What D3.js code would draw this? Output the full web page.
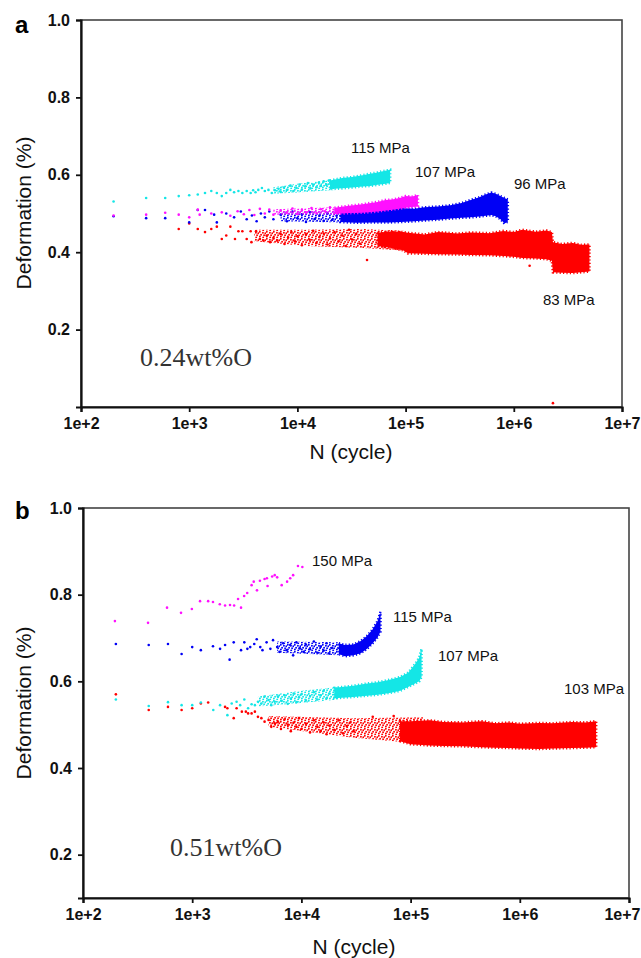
<!DOCTYPE html>
<html>
<head>
<meta charset="utf-8">
<script src="https://cdn.jsdelivr.net/npm/d3@7"></script>
<style>
    body { margin: 0; background: #fff; }
    text { font-family: "Liberation Sans", Arial, sans-serif; }
</style>
</head>
<body>
<div id="chart"></div>
<script>
// ---- panel a (0.24wt%O) : [N, deformation] points, [N, low, high] bands (loose / dense)
var aCyanPts = [[200,0.531],[400,0.540],[600,0.540],[800,0.545],[1000,0.547],[1200,0.549],[1400,0.553],[1600,0.558],[1800,0.553],[2000,0.545],[2200,0.553],[2400,0.561],[2600,0.555],[2850,0.558],[3100,0.553],[3400,0.558],[3700,0.553],[3900,0.560],[4100,0.555],[4350,0.561],[4700,0.566],[5000,0.558],[5400,0.561],[5800,0.553],[6200,0.560],[6700,0.564],[7000,0.556],[7500,0.567],[8000,0.561],[8600,0.572],[9200,0.558],[9800,0.566],[10500,0.575],[11000,0.562],[11800,0.570],[12500,0.579],[13200,0.565],[14000,0.574],[15000,0.568],[15800,0.580],[16500,0.571],[17500,0.583],[18500,0.574],[19500,0.585]];
var aCyanLoose = [[6000,0.551,0.568],[10000,0.554,0.577],[22000,0.561,0.588]];
var aCyanBand = [[20000,0.563,0.585],[26000,0.565,0.592],[32000,0.567,0.594],[40000,0.570,0.599],[47000,0.571,0.603],[55000,0.574,0.606],[63000,0.576,0.610],[72000,0.579,0.613]];

var aMagPts = [[200,0.495],[400,0.497],[600,0.502],[800,0.497],[1000,0.490],[1200,0.510],[1250,0.497],[1600,0.500],[2000,0.503],[2400,0.494],[2800,0.506],[3200,0.498],[3600,0.509],[4000,0.496],[4500,0.512],[5000,0.500],[5500,0.510],[6000,0.497],[7000,0.508],[8000,0.502],[9000,0.513],[10000,0.499],[11000,0.509],[12000,0.503],[13500,0.514],[15000,0.501],[16500,0.511],[18000,0.506],[20000,0.516]];
var aMagLoose = [[6000,0.497,0.511],[22000,0.498,0.516]];
var aMagBand = [[22000,0.499,0.515],[30000,0.501,0.520],[40000,0.502,0.524],[55000,0.505,0.530],[65000,0.508,0.535],[75000,0.510,0.536],[90000,0.513,0.541],[100000,0.515,0.545],[115000,0.517,0.544],[130000,0.518,0.548]];

var aBluePts = [[200,0.493],[400,0.488],[600,0.488],[1000,0.477],[1200,0.509],[1400,0.509],[1700,0.497],[1800,0.477],[2200,0.500],[2600,0.490],[3000,0.505],[3400,0.485],[3800,0.495],[4200,0.480],[4600,0.500],[5000,0.490],[5500,0.505],[6000,0.485],[7000,0.497],[8000,0.480],[9000,0.505],[10000,0.488],[11000,0.498],[12000,0.478],[13000,0.504],[14500,0.486],[16000,0.495],[17500,0.481],[19000,0.500],[21000,0.484],[23000,0.494]];
var aBlueLoose = [[7000,0.480,0.505],[26000,0.477,0.506]];
var aBlueBand = [[25000,0.478,0.503],[35000,0.476,0.503],[50000,0.477,0.507],[70000,0.477,0.510],[90000,0.478,0.514],[120000,0.480,0.512],[150000,0.482,0.516],[200000,0.484,0.518],[260000,0.487,0.521],[330000,0.489,0.527],[400000,0.490,0.535],[480000,0.492,0.542],[550000,0.494,0.549],[620000,0.496,0.554],[680000,0.493,0.551],[750000,0.486,0.545],[820000,0.474,0.540],[880000,0.479,0.536]];

var aRedPts = [[800,0.460],[1000,0.474],[1200,0.460],[1400,0.452],[1600,0.460],[1800,0.466],[2000,0.434],[2200,0.443],[2400,0.466],[2650,0.434],[2850,0.454],[3100,0.454],[3400,0.434],[3700,0.454],[3760,0.426],[4150,0.454],[4500,0.434],[4850,0.430],[5200,0.443],[5600,0.426],[6000,0.437],[6500,0.430],[7000,0.447],[7600,0.421],[8200,0.438],[8800,0.452],[9500,0.428],[10000,0.441],[11000,0.418],[12000,0.446],[13000,0.432],[14000,0.455],[15000,0.424],[16000,0.439],[17500,0.448],[19000,0.420],[20000,0.436],[22000,0.452],[24000,0.428],[26000,0.443],[28000,0.416],[30000,0.458],[32000,0.433],[35000,0.447],[38000,0.422],[44000,0.380],[1400000,0.365],[2300000,0.010]];
var aRedLoose = [[4000,0.428,0.458],[12000,0.416,0.458],[40000,0.411,0.460],[100000,0.404,0.455]];
var aRedBand = [[55000,0.416,0.450],[75000,0.411,0.454],[95000,0.405,0.452],[105000,0.397,0.450],[150000,0.396,0.446],[200000,0.395,0.452],[300000,0.394,0.448],[400000,0.393,0.451],[600000,0.392,0.449],[800000,0.390,0.455],[1000000,0.388,0.452],[1200000,0.385,0.458],[1600000,0.384,0.453],[2000000,0.382,0.456],[2250000,0.378,0.452],[2300000,0.348,0.426],[2800000,0.347,0.421],[3500000,0.346,0.424],[4200000,0.348,0.419],[5000000,0.350,0.420]];

// ---- panel b (0.51wt%O)
var bMagPts = [[196,0.739],[394,0.735],[588,0.770],[790,0.758],[993,0.767],[1180,0.785],[1400,0.785],[1550,0.783],[1790,0.778],[2000,0.775],[2220,0.776],[2420,0.775],[2630,0.790],[2800,0.770],[2990,0.797],[3190,0.804],[3500,0.822],[3660,0.830],[3920,0.810],[4170,0.832],[4600,0.836],[4830,0.838],[4900,0.820],[5400,0.842],[5700,0.845],[6000,0.840],[6600,0.822],[7400,0.830],[7900,0.838],[8400,0.845],[9300,0.866],[10200,0.864]];

var bBluePts = [[200,0.686],[400,0.684],[600,0.686],[800,0.663],[1000,0.679],[1200,0.672],[1550,0.681],[1800,0.675],[2000,0.684],[2200,0.650],[2400,0.690],[2800,0.672],[3000,0.690],[3200,0.675],[3400,0.679],[3700,0.686],[3900,0.697],[4200,0.679],[4400,0.672],[4800,0.690],[5200,0.675],[5500,0.695],[6000,0.679],[6300,0.668],[6800,0.688],[7300,0.672],[7900,0.684],[8400,0.660],[9000,0.690],[9700,0.676],[10500,0.668],[11000,0.685],[12000,0.674],[13000,0.692],[14000,0.666],[15000,0.680],[16000,0.671],[17000,0.688],[18000,0.664],[19000,0.677]];
var bBlueLoose = [[6000,0.666,0.692],[22000,0.660,0.690]];
var bBlueBand = [[22000,0.663,0.688],[25000,0.658,0.684],[30000,0.660,0.685],[35000,0.665,0.693],[40000,0.675,0.705],[45000,0.688,0.720],[50000,0.702,0.740],[53000,0.715,0.760]];

var bCyanPts = [[200,0.558],[400,0.543],[600,0.552],[800,0.545],[1000,0.545],[1200,0.551],[1560,0.534],[1800,0.545],[2100,0.522],[2300,0.549],[2550,0.553],[2750,0.545],[3000,0.558],[3250,0.538],[3500,0.547],[3750,0.545],[4000,0.553],[4300,0.549],[4600,0.565],[5000,0.557],[5300,0.545],[5700,0.553],[6100,0.565],[6600,0.555],[7000,0.568],[7500,0.548],[8000,0.560],[8500,0.572],[9000,0.552],[9500,0.563],[10000,0.570],[11000,0.556],[12000,0.566],[13000,0.575],[14000,0.558],[15000,0.568],[16000,0.578],[17000,0.561],[18000,0.572]];
var bCyanLoose = [[4000,0.542,0.565],[10000,0.550,0.578],[22000,0.558,0.587]];
var bCyanBand = [[20000,0.561,0.585],[30000,0.564,0.590],[40000,0.567,0.595],[50000,0.569,0.598],[60000,0.572,0.602],[70000,0.575,0.606],[80000,0.578,0.610],[95000,0.587,0.620],[110000,0.595,0.640],[120000,0.600,0.655],[126000,0.610,0.675]];

var bRedPts = [[200,0.570],[400,0.534],[600,0.541],[800,0.534],[1000,0.538],[1200,0.549],[1400,0.551],[2000,0.541],[2100,0.538],[2400,0.515],[2550,0.538],[2850,0.530],[3100,0.530],[3250,0.526],[3500,0.526],[3750,0.530],[4000,0.518],[4300,0.515],[4600,0.507],[5000,0.511],[5300,0.495],[5700,0.503],[6100,0.507],[6500,0.490],[7000,0.512],[7500,0.500],[8000,0.485],[8500,0.505],[9000,0.495],[9500,0.515],[10000,0.490],[11000,0.502],[12000,0.482],[13000,0.510],[14000,0.495],[15000,0.485],[16000,0.505],[17000,0.478],[18000,0.498],[20000,0.488],[22000,0.510],[24000,0.480],[26000,0.497],[28000,0.505],[30000,0.485],[45000,0.518],[70000,0.520]];
var bRedLoose = [[5000,0.495,0.520],[30000,0.470,0.515],[130000,0.456,0.517]];
var bRedBand = [[80000,0.462,0.508],[100000,0.455,0.508],[150000,0.452,0.510],[200000,0.451,0.506],[300000,0.450,0.505],[450000,0.448,0.508],[600000,0.447,0.503],[800000,0.446,0.505],[1000000,0.445,0.502],[1500000,0.444,0.504],[2000000,0.445,0.503],[3000000,0.446,0.506],[4000000,0.447,0.505],[5000000,0.448,0.508]];

var xTicks = [1e2, 1e3, 1e4, 1e5, 1e6, 1e7];
var yTicks = [0.2, 0.4, 0.6, 0.8, 1.0];

var colors = { cyan: "#14e6e6", magenta: "#ff10ff", blue: "#0000f5", red: "#ff0000" };

var svg = d3.select("#chart").append("svg")
    .attr("width", 641)
    .attr("height", 958);

// speckled fills for the loosely packed stretches
var speck = [[0.8,0.8],[3.9,1.7],[2.1,3.7],[5.1,4.3],[0.9,5.5],[4.2,6.4],[6.3,2.3]];
var defs = svg.append("defs");
Object.keys(colors).forEach(function(k) {
    var pat = defs.append("pattern")
        .attr("id", "dots-" + k)
        .attr("patternUnits", "userSpaceOnUse")
        .attr("width", 7).attr("height", 7);
    pat.selectAll("circle").data(speck).enter().append("circle")
        .attr("cx", d => d[0]).attr("cy", d => d[1])
        .attr("r", 0.95).attr("fill", colors[k]);
});

function drawPanel(p) {
    var x = d3.scaleLog().domain([1e2, 1e7]).range([p.left, p.right]);
    var y = d3.scaleLinear().domain(p.yDomain).range([p.bottom, p.top]);
    var g = svg.append("g");

    // frame
    g.append("rect")
        .attr("x", p.left).attr("y", p.top)
        .attr("width", p.right - p.left).attr("height", p.bottom - p.top)
        .attr("fill", "none").attr("stroke", "#444").attr("stroke-width", 1.6);

    var area = d3.area()
        .x(d => x(d[0]))
        .y0(d => y(d[1]))
        .y1(d => y(d[2]));

    p.series.forEach(function(s) {
        if (s.loose) {
            g.append("path")
                .datum(s.loose)
                .attr("d", area)
                .attr("fill", "url(#dots-" + s.color + ")");
        }
        if (s.band) {
            g.append("path")
                .datum(s.band)
                .attr("d", area)
                .attr("fill", colors[s.color])
                .attr("stroke", colors[s.color])
                .attr("stroke-width", 2.6)
                .attr("stroke-dasharray", "1.2 2.2");
        }
        g.selectAll(null)
            .data(s.pts)
            .enter().append("circle")
            .attr("cx", d => x(d[0]))
            .attr("cy", d => y(d[1]))
            .attr("r", 1.3)
            .attr("fill", colors[s.color]);
    });

    // axes
    var xAxis = g.append("g")
        .attr("transform", "translate(0," + p.bottom + ")")
        .call(d3.axisBottom(x).tickValues(xTicks).tickSize(5).tickPadding(6)
            .tickFormat(d => "1e+" + Math.round(Math.log10(d))));
    var yAxis = g.append("g")
        .attr("transform", "translate(" + p.left + ",0)")
        .call(d3.axisLeft(y).tickValues(yTicks).tickSize(5).tickPadding(6)
            .tickFormat(d3.format(".1f")));

    [xAxis, yAxis].forEach(function(a) {
        a.select(".domain").attr("stroke", "#111").attr("stroke-width", 2.2);
        a.selectAll(".tick line").attr("stroke", "#111").attr("stroke-width", 1.8);
        a.selectAll(".tick text")
            .attr("fill", "#111")
            .style("font-size", "16px")
            .style("font-weight", "bold")
            .style("font-family", '"Liberation Sans", Arial, sans-serif');
    });
    // keep the last x label inside the page
    xAxis.selectAll(".tick text").filter(d => d === 1e7)
        .attr("text-anchor", "end")
        .attr("x", 640 - p.right);

    // series labels
    p.labels.forEach(function(l) {
        g.append("text")
            .attr("x", l.x).attr("y", l.y)
            .attr("fill", "#111")
            .style("font-size", "15px")
            .text(l.text);
    });

    g.append("text")
        .attr("x", p.letterX).attr("y", p.letterY)
        .style("font-size", "24px").style("font-weight", "bold")
        .text(p.letter);

    g.append("text")
        .attr("transform", "translate(" + 23 + "," + p.yTitleY + ") rotate(-90)")
        .attr("text-anchor", "middle")
        .attr("dominant-baseline", "central")
        .attr("fill", "#111")
        .style("font-size", "21px")
        .text("Deformation (%)");

    g.append("text")
        .attr("x", p.xTitleX).attr("y", p.xTitleY)
        .attr("text-anchor", "middle")
        .attr("fill", "#111")
        .style("font-size", "21px")
        .text("N (cycle)");

    g.append("text")
        .attr("x", p.noteX).attr("y", p.noteY)
        .attr("fill", "#333")
        .style("font-family", '"Liberation Serif", "Times New Roman", serif')
        .style("font-size", "26px")
        .text(p.note);
}

drawPanel({
    left: 81, right: 622, top: 20, bottom: 407, yDomain: [0, 1],
    letter: "a", letterX: 15, letterY: 33,
    yTitleY: 213, xTitleX: 351, xTitleY: 459,
    note: "0.24wt%O", noteX: 140, noteY: 366,
    series: [
        { color: "red", pts: aRedPts, loose: aRedLoose, band: aRedBand },
        { color: "blue", pts: aBluePts, loose: aBlueLoose, band: aBlueBand },
        { color: "magenta", pts: aMagPts, loose: aMagLoose, band: aMagBand },
        { color: "cyan", pts: aCyanPts, loose: aCyanLoose, band: aCyanBand }
    ],
    labels: [
        { text: "115 MPa", x: 351, y: 153 },
        { text: "107 MPa", x: 415, y: 177 },
        { text: "96 MPa", x: 514, y: 189 },
        { text: "83 MPa", x: 543, y: 305 }
    ]
});

drawPanel({
    left: 83, right: 629, top: 508, bottom: 898, yDomain: [0.1, 1],
    letter: "b", letterX: 15, letterY: 519,
    yTitleY: 703, xTitleX: 354, xTitleY: 954,
    note: "0.51wt%O", noteX: 170, noteY: 856,
    series: [
        { color: "red", pts: bRedPts, loose: bRedLoose, band: bRedBand },
        { color: "cyan", pts: bCyanPts, loose: bCyanLoose, band: bCyanBand },
        { color: "blue", pts: bBluePts, loose: bBlueLoose, band: bBlueBand },
        { color: "magenta", pts: bMagPts, loose: null, band: null }
    ],
    labels: [
        { text: "150 MPa", x: 312, y: 566 },
        { text: "115 MPa", x: 393, y: 622 },
        { text: "107 MPa", x: 438, y: 661 },
        { text: "103 MPa", x: 564, y: 694 }
    ]
});
</script>
</body>
</html>
